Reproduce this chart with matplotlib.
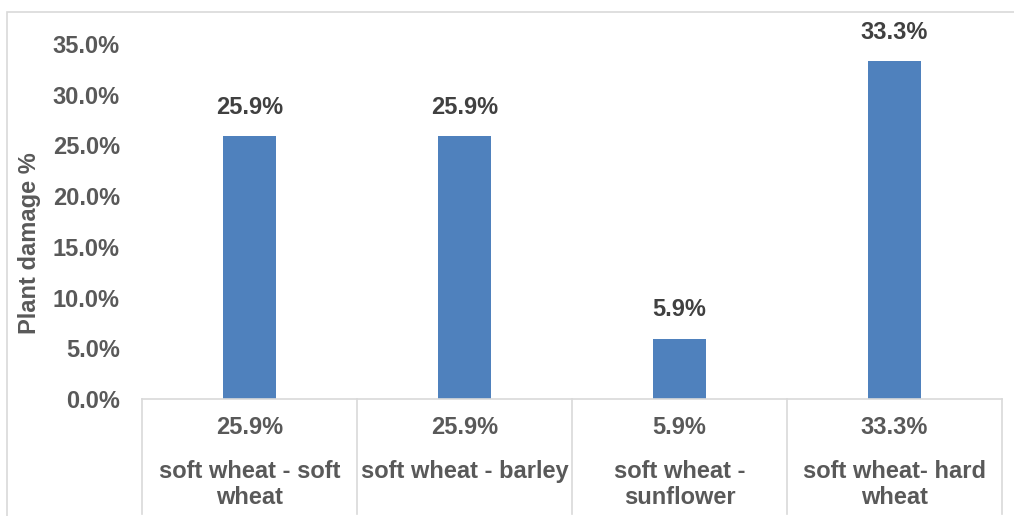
import matplotlib
matplotlib.use("Agg")
import matplotlib.pyplot as plt
from matplotlib.patches import Rectangle
from matplotlib.ticker import FuncFormatter

# data
categories = ["soft wheat - soft\nwheat", "soft wheat - barley",
              "soft wheat -\nsunflower", "soft wheat- hard\nwheat"]
damage = [25.9, 25.9, 5.9, 33.3]
yticks = [0, 5, 10, 15, 20, 25, 30, 35]

plt.rcParams['font.family'] = ['Liberation Sans', 'DejaVu Sans']
W, H = 1014, 516
FS = 17
fig = plt.figure(figsize=(W / 100, H / 100), dpi=100)

# outer chart border (light gray, like Excel)
fig.patches.append(Rectangle((7 / W, -0.05), 1.1, (H - 12) / H + 0.05,
                             transform=fig.transFigure, fill=False,
                             edgecolor='#d9d9d9', linewidth=1.2))

left, right, top, base = 142, 1002, 44, 399
ax = fig.add_axes([left / W, (H - base) / H, (right - left) / W, (base - top) / H])

x = range(len(damage))
ax.bar(x, damage, width=0.25, color='#4f81bd')
ax.set_xlim(-0.5, len(damage) - 0.5)
ax.set_ylim(0, 35)

for i, v in enumerate(damage):
    ax.annotate(f"{v:.1f}%", (i, v), xytext=(0, 21), textcoords='offset points',
                ha='center', va='center', fontsize=FS, fontweight='bold',
                color='#404040')

for s in ax.spines.values():
    s.set_visible(False)
ax.set_xticks([])
ax.set_yticks(yticks)
ax.yaxis.set_major_formatter(FuncFormatter(lambda v, p: f"{v:.1f}%"))
ax.tick_params(axis='y', length=0, pad=16, labelsize=FS, labelcolor='#595959')
for lbl in ax.get_yticklabels():
    lbl.set_fontweight('bold')
ax.set_ylabel("Plant damage %", fontsize=FS, fontweight='bold', color='#595959')
ax.yaxis.set_label_coords(-0.117, 0.44)

# data table under the plot
tr = ax.get_xaxis_transform()
span = base - top
bottom = (base - 514) / span
ax.plot([-0.5, len(damage) - 0.5], [0, 0], color='#d9d9d9', lw=1.2,
        transform=tr, clip_on=False)
for xv in [i - 0.5 for i in range(len(damage) + 1)]:
    ax.plot([xv, xv], [0, bottom], color='#d9d9d9', lw=1.2,
            transform=tr, clip_on=False)
for i, (c, v) in enumerate(zip(categories, damage)):
    ax.text(i, (base - 428) / span, f"{v:.1f}%", transform=tr,
            ha='center', va='center', fontsize=FS, fontweight='bold',
            color='#595959')
    ax.text(i, (base - 460) / span, c, transform=tr,
            ha='center', va='top', fontsize=FS, fontweight='bold',
            color='#595959', linespacing=1.17)

fig.savefig("out.png", dpi=100)
